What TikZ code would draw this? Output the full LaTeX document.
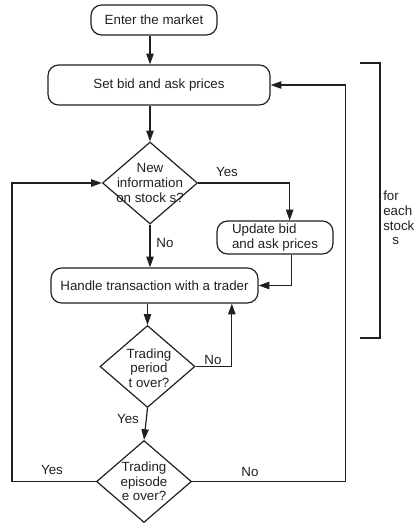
\documentclass[tikz,border=0pt]{standalone}
\usepackage{fontspec}
\setmainfont{Liberation Sans}
\usetikzlibrary{shapes.geometric,arrows.meta}
\definecolor{ink}{RGB}{35,31,32}
\tikzset{
  link/.style={draw=ink, line width=0.9pt},
  flow/.style={link, -{Triangle[length=8pt,width=5.5pt]}},
  process/.style={draw=ink, line width=0.9pt, rounded corners=8pt, text=ink, align=center, inner sep=2pt},
  decision/.style={draw=ink, line width=0.9pt, diamond, minimum width=71.25pt, minimum height=61.5pt, inner sep=0pt},
  dtext/.style={text=ink, align=center, inner sep=0pt},
  lbl/.style={text=ink, inner sep=0pt},
}
\begin{document}
\begin{tikzpicture}[x=0.75pt,y=-0.75pt,font=\fontsize{10}{11}\selectfont]
  \useasboundingbox (0,0) rectangle (415,527);

  % boxes
  \node[process, minimum width=94.5pt, minimum height=22.5pt] (enter) at (154,20) {Enter the market};
  \node[process, minimum width=166.5pt, minimum height=30pt] (set) at (159,85) {Set bid and ask prices};
  \node[process, minimum width=87pt, minimum height=24.75pt, align=left] (update) at (275,237.5) {Update bid\\and ask prices};
  \node[process, minimum width=155.25pt, minimum height=26.25pt] (handle) at (154.5,285.5) {Handle transaction with a trader};

  % decisions
  \node[decision] (new) at (150,183) {};
  \node[dtext] (new text) at (new) {New\\information\\on stock s?};
  \node[decision] (trade) at (147.5,366.5) {};
  \node[dtext] (trade text) at (149,368) {Trading\\period\\t over?};
  \node[decision] (episode) at (144,481.5) {};
  \node[dtext] (episode text) at (episode) {Trading\\episode\\e over?};

  % connectors
  \draw[flow] (enter.south -| new.north) -- (set.north -| new.north);
  \draw[flow] (set.south -| new.north) -- (new.north);
  \draw[flow] (new.east) -| ([xshift=11pt]update.north);
  \draw[flow] ([xshift=12.5pt]update.south) |- (handle.east);
  \draw[flow] (new.south) -- (new.south |- handle.north);
  \draw[flow] (trade.north |- handle.south) -- (trade.north);
  \draw[flow] (trade.east) -| ([xshift=58pt]handle.south);
  \draw[flow] (trade.south) -- (episode.north);
  \draw[flow] (episode.west) -- ++(-84,0) |- (new.west);
  \draw[flow] (episode.east) -- ++(153,0) |- (set.east);

  % labels
  \node[lbl] (yes new) at (227,172) {Yes};
  \node[lbl] (no new) at (165,243) {No};
  \node[lbl] (no trade) at (213,360) {No};
  \node[lbl] (yes trade) at (128,419) {Yes};
  \node[lbl] (yes episode) at (52,470) {Yes};
  \node[lbl] (no episode) at (250,472) {No};

  % bracket
  \draw[link] (360,63) -| (380,338) -- (360,338);
  \node[lbl, anchor=north west, align=left] (each) at (383,191) {for\\each\\stock\\\hspace*{6.75pt}s};
\end{tikzpicture}
\end{document}
